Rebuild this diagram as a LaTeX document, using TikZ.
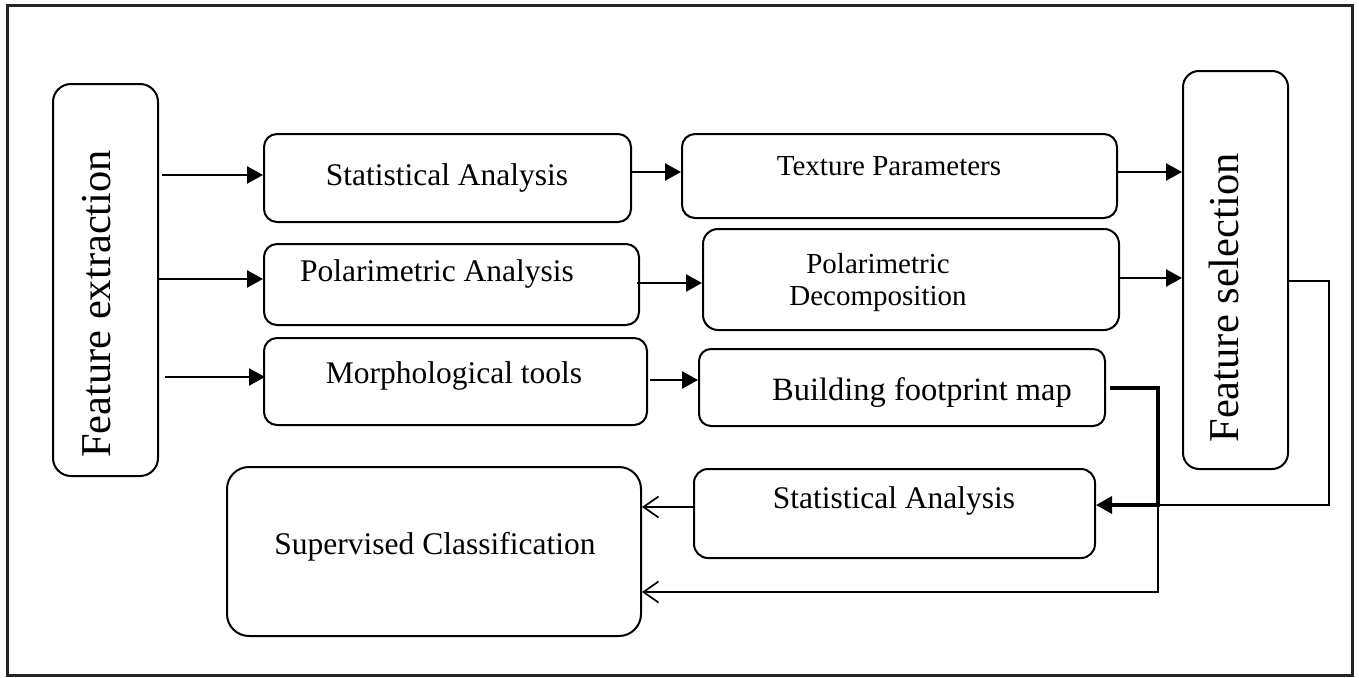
\documentclass[tikz,border=0pt]{standalone}
\usepackage{fontspec}
\setmainfont{Liberation Serif}
\usetikzlibrary{arrows.meta,calc}
\begin{document}
\begin{tikzpicture}[x=1pt,y=-1pt,
  box/.style={draw, line width=2pt, anchor=north west, inner sep=0pt},
  lbl/.style={anchor=base, inner sep=0pt, font=\fontsize{31.5}{36}\selectfont},
  slbl/.style={anchor=base, inner sep=0pt, font=\fontsize{29}{34}\selectfont},
  vlbl/.style={anchor=base, inner sep=0pt, rotate=90, font=\fontsize{42.5}{48}\selectfont},
  arr/.style={line width=2.5pt, -{Triangle[length=16pt,width=17pt]}},
  thinline/.style={line width=1.7pt},
  thickline/.style={line width=3.2pt, -{Triangle[length=16pt,width=17pt]}},
  openarr/.style={line width=1.7pt, -{Straight Barb[length=15pt,width=21pt]}}
]
\useasboundingbox (0,0) rectangle (1359,677);
\draw[line width=3pt, black!85] (7,6) rectangle (1352,675);

% boxes
\node[box, rounded corners=18pt, minimum width=105pt, minimum height=392pt] (fe) at (52,83) {};
\node[box, rounded corners=16pt, minimum width=105pt, minimum height=398pt] (fs) at (1182,70) {};
\node[box, rounded corners=13pt, minimum width=367pt, minimum height=88pt] (sa1) at (263,133) {};
\node[box, rounded corners=13pt, minimum width=435pt, minimum height=84pt] (tp) at (681,133) {};
\node[box, rounded corners=13pt, minimum width=375pt, minimum height=81pt] (pa) at (263,243) {};
\node[box, rounded corners=15pt, minimum width=416pt, minimum height=101pt] (pd) at (702,228) {};
\node[box, rounded corners=13pt, minimum width=383pt, minimum height=87pt] (mt) at (263,337) {};
\node[box, rounded corners=12pt, minimum width=406pt, minimum height=77pt] (bfm) at (698,348) {};
\node[box, rounded corners=14pt, minimum width=401pt, minimum height=89pt] (sa2) at (693,468) {};
\node[box, rounded corners=22pt, minimum width=414pt, minimum height=169pt] (sc) at (226,466) {};

% labels
\node[vlbl] (tfe) at (110,304) {Feature extraction};
\node[vlbl] (tfs) at (1238,298) {Feature selection};
\node[lbl] (tsa1) at (447,185) {Statistical Analysis};
\node[slbl] (ttp) at (889,175) {Texture Parameters};
\node[lbl] (tpa) at (437,281) {Polarimetric Analysis};
\node[slbl] (tpd1) at (878,273) {Polarimetric};
\node[slbl] (tpd2) at (878,305) {Decomposition};
\node[lbl] (tmt) at (454,383) {Morphological tools};
\node[lbl, font=\fontsize{32.5}{36}\selectfont] (tbfm) at (922,400) {Building footprint map};
\node[lbl] (tsa2) at (894,508) {Statistical Analysis};
\node[lbl] (tsc) at (435,554) {Supervised Classification};

% connectors
\draw[arr] ($(fe.east |- 0,175)+(3,0)$) -- (sa1.west |- 0,175);
\draw[arr] (fe.east |- 0,279) -- (pa.west |- 0,279);
\draw[arr] ($(fe.east |- 0,377)+(6,0)$) -- ($(mt.west |- 0,377)+(2,0)$);
\draw[arr] (sa1.east |- 0,172) -- (tp.west |- 0,172);
\draw[arr] ($(pa.east |- 0,283)+(-3,0)$) -- (pd.west |- 0,283);
\draw[arr] ($(mt.east |- 0,380)+(2,0)$) -- (bfm.west |- 0,380);
\draw[arr] (tp.east |- 0,172) -- (fs.west |- 0,172);
\draw[arr] (pd.east |- 0,278) -- (fs.west |- 0,278);

\coordinate (fsr) at (1329,281);
\coordinate (jn) at (1158,505);
\draw[thinline] (fs.east |- fsr) -- (fsr) |- (jn);
\draw[thickline] ($(bfm.east |- 0,388)+(4,0)$) -| (jn) -- (sa2.east |- jn);
\draw[openarr] (jn) |- (sc.east |- 0,592);
\draw[openarr] (sa2.west |- 0,507) -- (sc.east |- 0,507);
\end{tikzpicture}
\end{document}
